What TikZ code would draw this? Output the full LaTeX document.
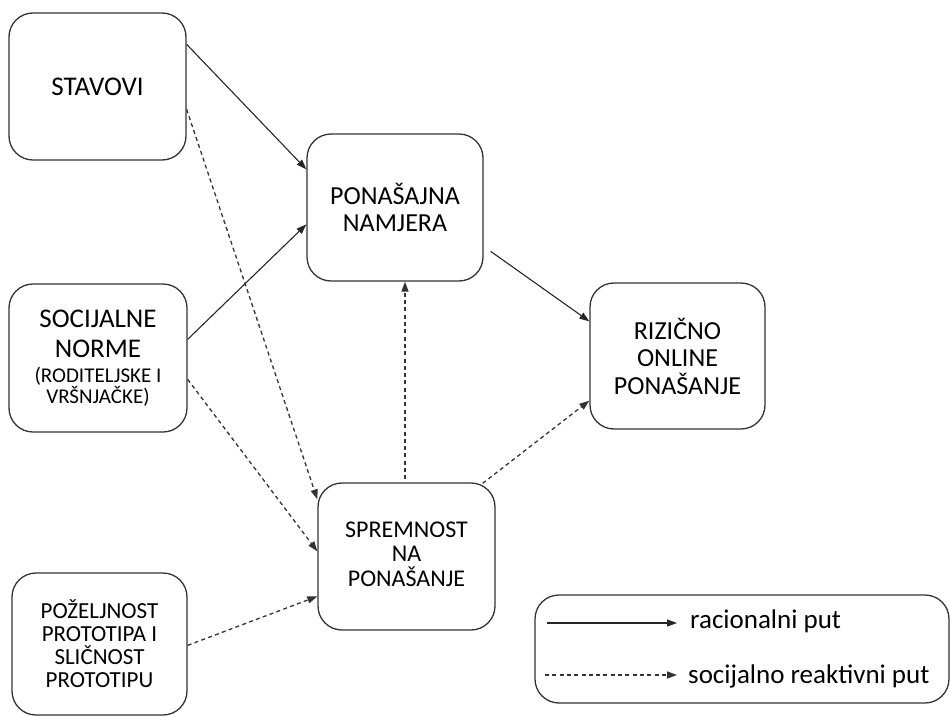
\documentclass[tikz,border=0pt]{standalone}
\usepackage{fontspec}
\setmainfont{Carlito}
\usetikzlibrary{arrows.meta}
\tikzset{
  box/.style={draw=black!80, line width=1.3pt, rounded corners=24pt, align=center, inner sep=0pt},
  solidarr/.style={draw=black!85, line width=1.1pt, -{Triangle[length=10pt,width=7pt]}},
  dasharr/.style={draw=black!80, line width=1.3pt, dash pattern=on 4pt off 3.3pt, -{Triangle[length=10pt,width=7pt]}},
  legtext/.style={anchor=west, inner sep=0pt, font=\fontsize{27}{30}\selectfont}
}
\begin{document}
\begin{tikzpicture}[x=1pt,y=-1pt]
\useasboundingbox (0,0) rectangle (950,717);
\node[box, minimum width=177pt, minimum height=147pt, font=\fontsize{27}{28}\selectfont] (stav) at (97.5,86.5) {STAVOVI};
\node[box, minimum width=178pt, minimum height=148pt, font=\fontsize{21}{21}\selectfont] (soc) at (98,358)
  {{\fontsize{27}{21}\selectfont SOCIJALNE}\\[9pt]{\fontsize{27}{21}\selectfont NORME}\\[4pt](RODITELJSKE I\\VRŠNJAČKE)};
\node[box, minimum width=176pt, minimum height=147pt, font=\fontsize{26}{27}\selectfont] (pon) at (395,207.5) {PONAŠAJNA\\NAMJERA};
\node[box, minimum width=175pt, minimum height=146pt, font=\fontsize{26}{27.5}\selectfont] (riz) at (677.5,356) {RIZIČNO\\ONLINE\\PONAŠANJE};
\node[box, minimum width=177pt, minimum height=147pt, font=\fontsize{24}{26.5}\selectfont] (spr) at (406.5,556.5)
  {\raisebox{13pt}{\begin{tabular}{@{}c@{}}SPREMNOST\\[-2.5pt]NA\\[-2.5pt]PONAŠANJE\end{tabular}}};
\node[box, minimum width=175pt, minimum height=142pt, font=\fontsize{23}{23}\selectfont] (poz) at (99.5,644) {POŽELJNOST\\PROTOTIPA I\\SLIČNOST\\PROTOTIPU};
\node[box, minimum width=414pt, minimum height=108pt] (leg) at (742,649) {};

% rational paths
\draw[solidarr] ([yshift=-32pt]stav.north east) -- ([yshift=-36pt]pon.north west);
\draw[solidarr] ([yshift=-56pt]soc.north east) -- ([yshift=-91pt]pon.north west);
\draw[solidarr] ([xshift=7pt,yshift=-118pt]pon.north east) -- ([yshift=-39pt]riz.north west);
% socially reactive paths
\draw[dasharr] ([yshift=-97pt]stav.north east) -- ([yshift=-17pt]spr.north west);
\draw[dasharr] ([yshift=-96pt]soc.north east) -- ([yshift=-69pt]spr.north west);
\draw[dasharr] ([yshift=-73pt]poz.north east) -- ([yshift=-114pt]spr.north west);
\draw[dasharr] ([xshift=-1.5pt,yshift=3pt]spr.north) -- ([xshift=10pt]pon.south);
\draw[dasharr] ([xshift=-13pt,yshift=-1pt]spr.north east) -- ([yshift=29pt]riz.south west);

% legend
\coordinate (l1s) at (547,623);
\coordinate (l1e) at (677,623);
\coordinate (l2s) at (545,675);
\coordinate (l2e) at (677,675);
\draw[solidarr] (l1s) -- (l1e);
\draw[dasharr] (l2s) -- (l2e);
\node[legtext] (lt1) at (690,621) {racionalni put};
\node[legtext] (lt2) at (688,676) {socijalno reaktivni put};
\end{tikzpicture}
\end{document}
